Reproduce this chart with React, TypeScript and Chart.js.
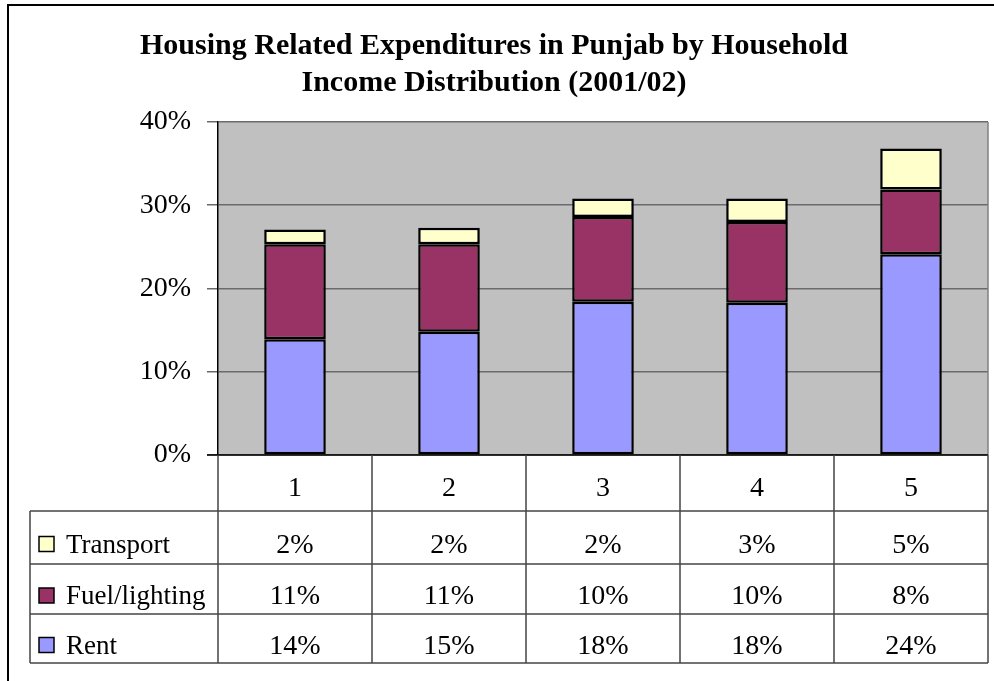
import React, { useEffect, useRef } from "react";
import { Chart, registerables } from "chart.js";

Chart.register(...registerables);

const titleLines = ["Housing Related Expenditures in Punjab by Household", "Income Distribution (2001/02)"];
const categories = ["1", "2", "3", "4", "5"];
const rentValues = [13.9, 14.8, 18.4, 18.3, 24.1];
const fuelValues = [11.4, 10.5, 10.2, 9.7, 7.8];
const transportValues = [1.8, 2.0, 2.2, 2.8, 4.9];
const yTicks = [0, 10, 20, 30, 40];

const SERIF = "'Liberation Serif', 'Times New Roman', serif";

const seriesInfo = [
  { label: "Rent", data: rentValues, color: "#9999FF" },
  { label: "Fuel/lighting", data: fuelValues, color: "#993366" },
  { label: "Transport", data: transportValues, color: "#FFFFCC" },
];

const frameAndTable = {
  id: "frameAndTable",
  beforeDraw(chart: any) {
    const { ctx, chartArea } = chart;
    ctx.save();
    ctx.fillStyle = "#fff";
    ctx.fillRect(0, 0, chart.width, chart.height);
    ctx.fillStyle = "#C0C0C0";
    ctx.fillRect(chartArea.left, chartArea.top, chartArea.right - chartArea.left, chartArea.bottom - chartArea.top);
    ctx.strokeStyle = "#000";
    ctx.lineWidth = 2;
    ctx.beginPath();
    ctx.moveTo(8, chart.height);
    ctx.lineTo(8, 5);
    ctx.lineTo(chart.width, 5);
    ctx.stroke();
    ctx.restore();
  },
  afterDraw(chart: any) {
    const { ctx, chartArea } = chart;
    const xs = chart.scales.x;
    const n = categories.length;
    const colW = (chartArea.right - chartArea.left) / n;
    const rowH = [56, 53, 50, 49];
    const tableLeft = 30;
    const top = chartArea.bottom;
    const yHeader = top + rowH[0];
    const rowsOrder = [2, 1, 0];
    ctx.save();
    ctx.strokeStyle = "#808080";
    ctx.lineWidth = 1.5;
    ctx.beginPath();
    ctx.moveTo(chartArea.right, chartArea.top);
    ctx.lineTo(chartArea.right, chartArea.bottom);
    ctx.stroke();
    ctx.strokeStyle = "#000";
    ctx.lineWidth = 1.5;
    ctx.beginPath();
    ctx.moveTo(chartArea.left - 11, chartArea.bottom);
    ctx.lineTo(chartArea.right, chartArea.bottom);
    ctx.stroke();

    let yBottom = top;
    rowH.forEach((h) => (yBottom += h));
    ctx.strokeStyle = "#444";
    ctx.lineWidth = 1.5;
    for (let i = 0; i <= n; i++) {
      const x = chartArea.left + i * colW;
      ctx.beginPath();
      ctx.moveTo(x, top);
      ctx.lineTo(x, yBottom);
      ctx.stroke();
    }
    ctx.beginPath();
    ctx.moveTo(tableLeft, yHeader);
    ctx.lineTo(tableLeft, yBottom);
    ctx.stroke();
    let y = yHeader;
    const hLines = [y];
    for (let r = 1; r < rowH.length; r++) {
      y += rowH[r];
      hLines.push(y);
    }
    hLines.forEach((hy) => {
      ctx.beginPath();
      ctx.moveTo(tableLeft, hy);
      ctx.lineTo(chartArea.right, hy);
      ctx.stroke();
    });

    ctx.fillStyle = "#000";
    ctx.textAlign = "center";
    ctx.textBaseline = "middle";
    ctx.font = `28px ${SERIF}`;
    categories.forEach((c, i) => {
      const cx = xs.getPixelForValue(i);
      ctx.fillText(c, cx, top + rowH[0] / 2 + 6);
    });
    let ry = yHeader;
    rowsOrder.forEach((si, r) => {
      const h = rowH[r + 1];
      const cy = ry + h / 2 + 8;
      const s = seriesInfo[si];
      ctx.fillStyle = s.color;
      ctx.fillRect(39, cy - 9, 15, 15);
      ctx.strokeStyle = "#000";
      ctx.lineWidth = 1.5;
      ctx.strokeRect(39, cy - 9, 15, 15);
      ctx.fillStyle = "#000";
      ctx.textAlign = "left";
      ctx.font = `27px ${SERIF}`;
      ctx.fillText(s.label, 66, cy);
      ctx.textAlign = "center";
      ctx.font = `28px ${SERIF}`;
      s.data.forEach((v, i) => {
        const cx = xs.getPixelForValue(i);
        ctx.fillText(Math.round(v) + "%", cx, cy);
      });
      ry += h;
    });
    ctx.restore();
  },
};

export default function App() {
  const ref = useRef<HTMLCanvasElement>(null);
  useEffect(() => {
    if (!ref.current) return;
    const chart = new Chart(ref.current, {
      type: "bar",
      data: {
        labels: categories,
        datasets: seriesInfo.map((s) => ({
          label: s.label,
          data: s.data,
          backgroundColor: s.color,
          borderColor: "#000",
          borderWidth: 2.5,
          borderSkipped: false,
          categoryPercentage: 1,
          barPercentage: 0.4,
        })),
      },
      plugins: [frameAndTable],
      options: {
        animation: false,
        responsive: false,
        devicePixelRatio: 1,
        layout: { padding: { top: 0, left: 0, right: 6, bottom: 226 } },
        plugins: {
          legend: { display: false },
          tooltip: { enabled: false },
          title: {
            display: true,
            text: titleLines,
            color: "#000",
            font: { family: SERIF, size: 30, weight: "bold", lineHeight: 1.233 },
            padding: { top: 28, bottom: 20 },
          },
        },
        scales: {
          x: { stacked: true, display: false },
          y: {
            stacked: true,
            min: 0,
            max: 40,
            afterBuildTicks: (scale: any) => {
              scale.ticks = yTicks.map((v) => ({ value: v }));
            },
            afterFit: (scale: any) => {
              scale.width = 218;
            },
            ticks: {
              color: "#000",
              padding: 16,
              font: { family: SERIF, size: 28 },
              callback: (v: any) => v + "%",
            },
            grid: { color: "#6a6a6a", lineWidth: 1.5, tickLength: 11, tickColor: "#6a6a6a" },
            border: { display: true, color: "#000", width: 1.5 },
          },
        },
      },
    });
    return () => chart.destroy();
  }, []);
  return (
    <div style={{ position: "absolute", left: 0, top: 0, width: 994, height: 681 }}>
      <canvas ref={ref} width={994} height={681} style={{ display: "block" }} />
    </div>
  );
}
